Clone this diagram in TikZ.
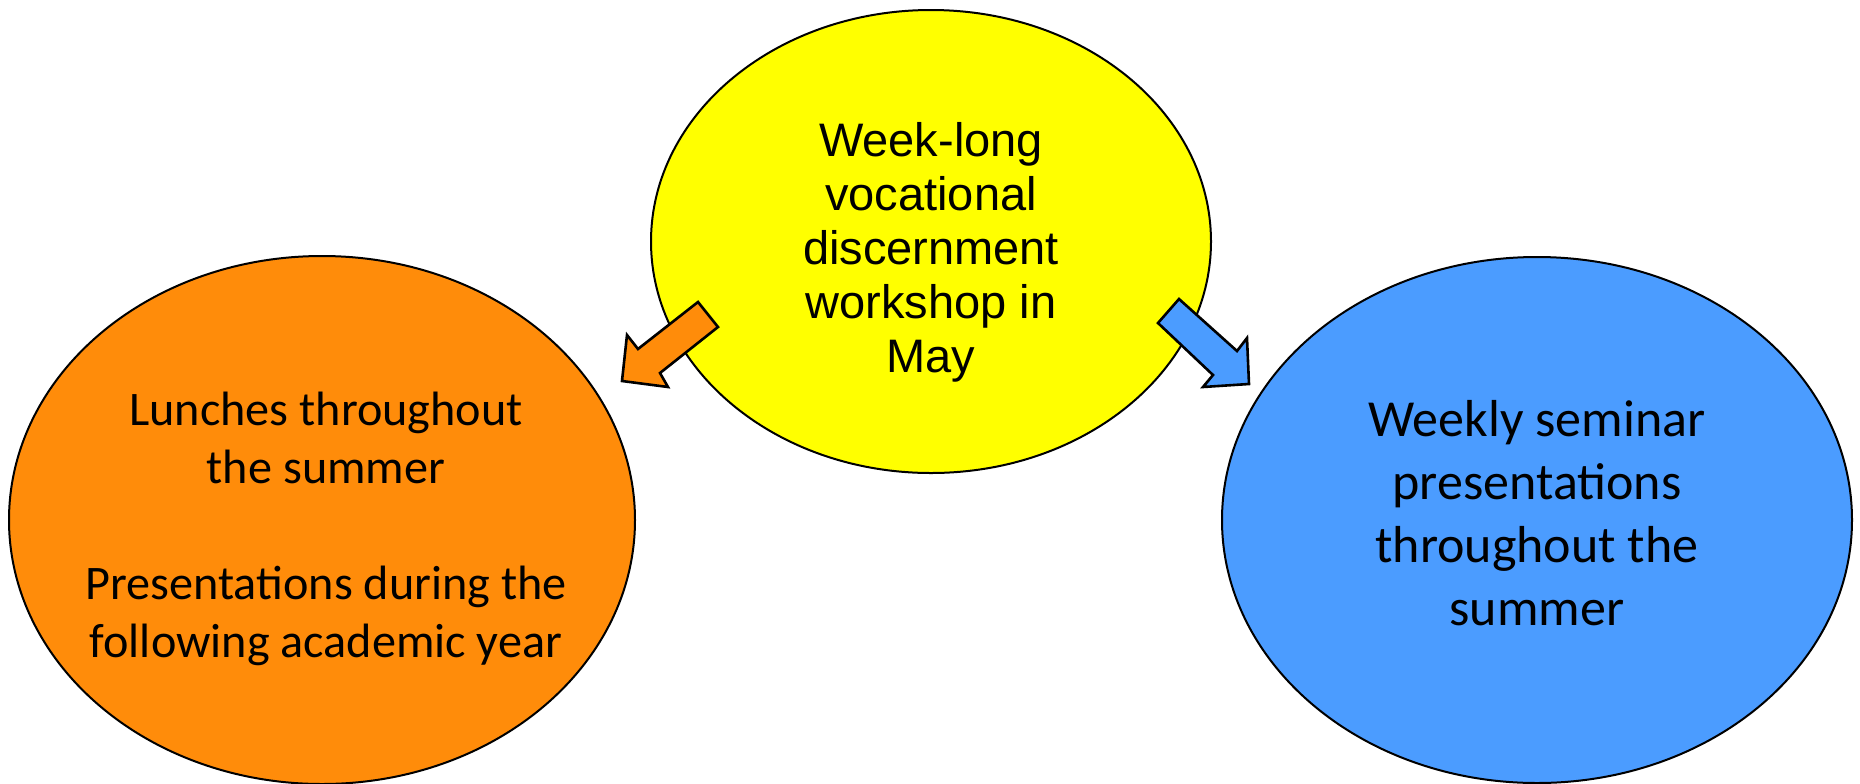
\documentclass[tikz,border=0pt]{standalone}
\usepackage{fontspec}
\setmainfont{Carlito}
\newfontfamily\arialfont{Liberation Sans}
\usetikzlibrary{shapes.geometric}

\definecolor{bubbleyellow}{HTML}{FFFF00}
\definecolor{bubbleorange}{HTML}{FF8C0A}
\definecolor{bubbleblue}{HTML}{4B9CFF}

\tikzset{
    bubble/.style={ellipse,draw=black,line width=1pt,inner sep=0pt},
    bubbletext/.style={align=center,inner sep=0pt},
    blockarrow/.style={draw=black,line width=1.3pt,line join=miter}
}

\begin{document}
\begin{tikzpicture}[x=0.5pt,y=-0.5pt]
                            % Canvas
                            \useasboundingbox (0,0) rectangle (1860,783);

                            % Bubbles
                            \node[bubble,fill=bubbleyellow,minimum width=280pt,minimum height=231.5pt] (workshop) at (931,241.5) {};
                            \node[bubble,fill=bubbleorange,minimum width=313pt,minimum height=264pt] (lunches) at (322,520) {};
                            \node[bubble,fill=bubbleblue,minimum width=315pt,minimum height=263pt] (seminar) at (1537,520) {};

                            % Texts
                            \node[bubbletext,font=\arialfont\fontsize{23.5}{27}\selectfont] (workshoptext)
                            at ([yshift=-5.5pt]workshop.center) {Week-long\\vocational\\discernment\\workshop in\\May};
                            \node[bubbletext,font=\fontsize{24.1}{29}\selectfont] (lunchestext)
                            at ([xshift=2pt,yshift=-4.5pt]lunches.center) {Lunches throughout\\the summer\\[29pt]Presentations during the\\following academic year};
                            \node[bubbletext,font=\fontsize{26}{31.5}\selectfont] (seminartext)
                            at ([yshift=3.5pt]seminar.center) {Weekly seminar\\presentations\\throughout the\\summer};

                            % Block arrows
                            \draw[blockarrow,fill=bubbleorange] (698,302) -- (718,327) -- (660,373) -- (668,387)
                            -- (622,381) -- (627,335) -- (638,349) -- cycle;
                            \draw[blockarrow,fill=bubbleblue] (1158,323) -- (1179,299) -- (1237,351) -- (1247,338)
                            -- (1249,384) -- (1203,387) -- (1213,375) -- cycle;
\end{tikzpicture}
\end{document}
